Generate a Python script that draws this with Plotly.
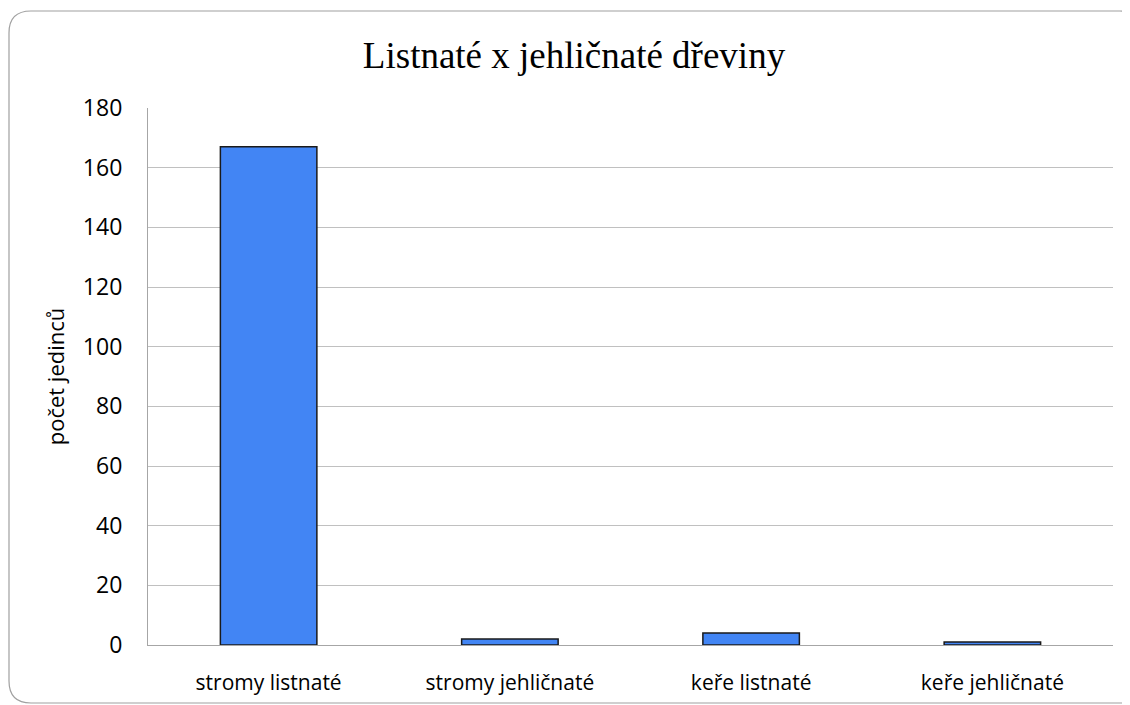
import plotly.graph_objects as go

categories = ["stromy listnaté", "stromy jehličnaté", "keře listnaté", "keře jehličnaté"]
values = [167, 2, 4, 1]
y_ticks = [0, 20, 40, 60, 80, 100, 120, 140, 160, 180]

# page has an 8px body offset; compensate
OFF = 8
W, H = 1130, 705
ml, mt = 148 - OFF, 108 - OFF
mr = W - (1113 - OFF)
mb = H - (645 - OFF)

fig = go.Figure(go.Bar(
    x=categories, y=values,
    marker=dict(color="#4285F4", line=dict(color="#1a1a1a", width=1.5)),
    width=0.4,
))

pw, ph = W - ml - mr, H - mt - mb
def px(x):
    return (x - OFF - ml) / pw
def py(y):
    return 1 - (y - OFF - mt) / ph
x0, x1, y0, y1, r = 9, 1142, 11, 703, 22
path = (f"M {px(x0+r)},{py(y0)} L {px(x1-r)},{py(y0)} "
        f"Q {px(x1)},{py(y0)} {px(x1)},{py(y0+r)} "
        f"L {px(x1)},{py(y1-r)} Q {px(x1)},{py(y1)} {px(x1-r)},{py(y1)} "
        f"L {px(x0+r)},{py(y1)} Q {px(x0)},{py(y1)} {px(x0)},{py(y1-r)} "
        f"L {px(x0)},{py(y0+r)} Q {px(x0)},{py(y0)} {px(x0+r)},{py(y0)} Z")

fig.update_layout(
    width=W, height=H,
    margin=dict(l=ml, r=mr, t=mt, b=mb),
    paper_bgcolor="white", plot_bgcolor="white",
    title=dict(text="Listnaté x jehličnaté dřeviny", xref="container",
               x=(574 - OFF) / W, xanchor="center",
               y=1 - (55 - OFF) / H, yanchor="middle",
               font=dict(family="Liberation Serif", size=37, color="#000000")),
    font=dict(family="Open Sans", size=21, color="#000000"),
    showlegend=False,
    bargap=0.6,
    shapes=[dict(type="path", xref="paper", yref="paper", path=path,
                 line=dict(color="#a0a0a0", width=1.2), layer="below")],
)
fig.update_xaxes(showgrid=False, showline=True, linecolor="#a6a6a6", linewidth=1.2,
                 ticks="", tickfont=dict(size=21), ticklabelstandoff=19)
fig.update_yaxes(range=[0, 180], tickvals=y_ticks, showgrid=True, gridcolor="#c0c0c0",
                 gridwidth=1.2, showline=True, linecolor="#a6a6a6", linewidth=1.2,
                 zeroline=False, ticks="", tickfont=dict(size=23), ticklabelstandoff=20,
                 title=dict(text="počet jedinců", font=dict(size=22), standoff=12))

fig.write_html("out.html")
